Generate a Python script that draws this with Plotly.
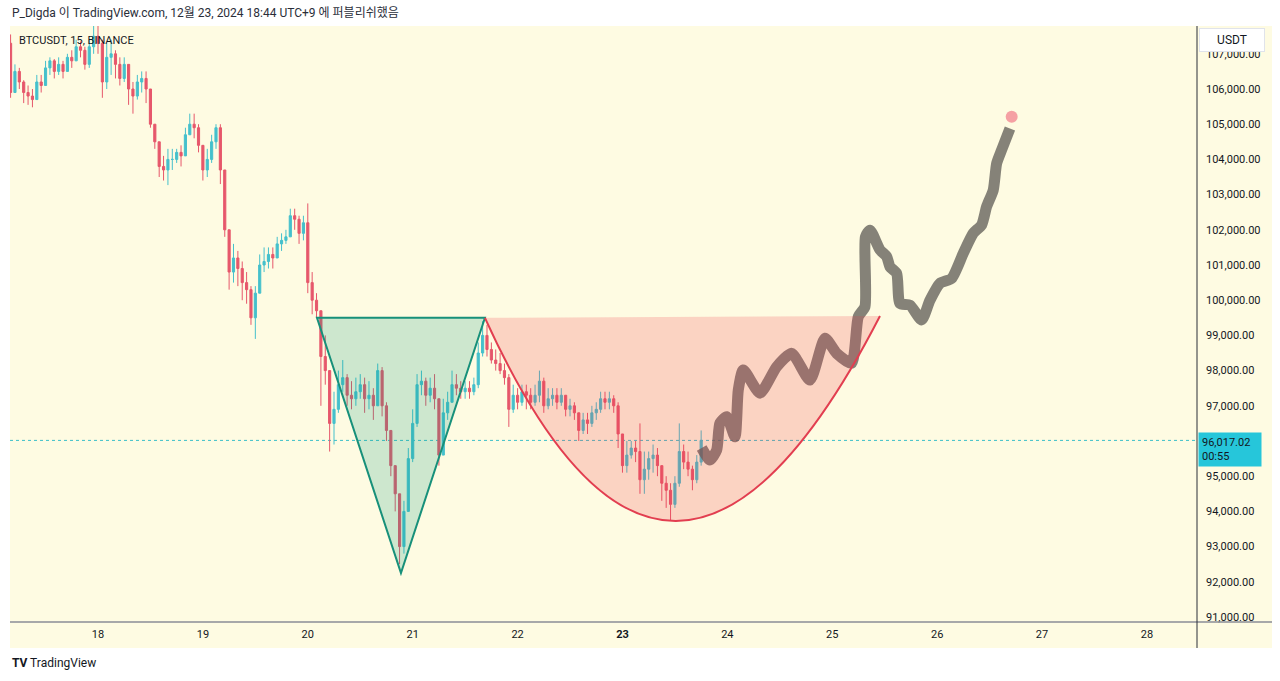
import plotly.graph_objects as go
import pandas as pd

# ---------------- data ----------------
candle_start = "2024-12-17 04:00"   # hourly candles
first_open = 107300
closes = [
    105900, 106500, 106200, 105900, 105800, 105700, 106200, 106100, 106600, 106800,
    106500, 106700, 106500, 106900, 106800, 107200, 107100, 106700, 107200, 107500,
    107300, 106200, 106900, 107000, 106700, 106300, 106700, 106000, 105800, 106200, 106300, 106000,
    105000, 104500, 103800, 103700, 104000, 104000, 104200, 104100, 104700, 105000, 104900, 104400,
    103700, 104000, 104500, 104900, 103700, 102000, 100800, 101200, 100900, 100500, 100300, 99500,
    100200, 101000, 101100, 101300, 101200, 101600, 101700, 101800, 102400, 102300, 101900, 102200,
    100500, 100000, 99700, 98400, 98000, 96500, 96900, 97600, 97800, 97300, 97200, 97400,
    97600, 97200, 97300, 97000, 98000, 97000, 96300, 95300, 94500, 93000, 94000, 95500,
    96500, 97600, 97700, 97300, 97500, 97200, 95600, 96800, 97100, 97600, 97500, 97400,
    97500, 97400, 97600, 98500, 99000, 98600, 98300, 98200, 98000, 97800, 96900, 97300,
    97100, 97400, 97300, 97100, 97300, 97700, 97000, 97200, 97300, 97100, 97300, 96900,
    97000, 96800, 96300, 96600, 96500, 96800, 96900, 97200, 97100, 97200, 97000, 96200,
    95300, 95600, 95800, 95700, 94900, 95200, 95500, 95600, 95300, 94800, 94600, 94200,
    94800, 95700, 95400, 95200, 94900, 95400, 96017.02,
]
highs = [
    107550, 106700, 106600, 106250, 106100, 106000, 106400, 106400, 106800, 106900,
    106850, 106900, 106800, 107000, 107100, 107400, 107350, 107200, 107400, 107800,
    107800, 107400, 107300, 107400, 107100, 106900, 106900, 106500, 106200, 106400, 106500, 106500,
    105700, 105000, 104300, 104100, 104300, 104300, 104300, 104400, 104900, 105300, 105300, 105000,
    104400, 104300, 104700, 105000, 105000, 103400, 102000, 101600, 101400, 101100, 100800, 100400,
    100400, 101300, 101500, 101500, 101500, 101800, 101900, 102000, 102600, 102600, 102400, 102400,
    102750, 100800, 100200, 99600, 99000, 97600, 97400, 98000, 98300, 97900, 97700, 97800,
    97900, 97800, 97700, 97500, 98200, 98100, 97100, 96000, 95300, 94500, 94300, 95800,
    96900, 97900, 98000, 97800, 97800, 97900, 97200, 97200, 97400, 98000, 97900, 97700,
    97700, 97700, 97800, 98800, 99400, 99300, 98800, 98600, 98500, 98200, 97900, 97600,
    97500, 97600, 97600, 97500, 97600, 98000, 97800, 97500, 97500, 97500, 97500, 97300,
    97200, 97100, 96800, 96800, 96800, 97000, 97100, 97400, 97400, 97400, 97300, 97100,
    96100, 96000, 96000, 96000, 96500, 95700, 95700, 95900, 95800, 95300, 95000, 94800,
    95000, 96500, 95900, 95700, 95300, 95600, 96300,
]
lows = [
    105750, 105900, 106000, 105600, 105550, 105480, 105700, 105900, 106100, 106400,
    106300, 106400, 106300, 106500, 106600, 106800, 106900, 106550, 106600, 107000,
    107000, 105750, 106000, 106400, 106300, 106100, 106200, 105550, 105300, 105700, 105900, 105600,
    104900, 104300, 103500, 103400, 103270, 103700, 103900, 103800, 104200, 104700, 104600, 104200,
    103400, 103500, 103900, 104300, 103300, 101800, 100300, 100500, 100400, 100000, 99900, 99300,
    98900, 100200, 100800, 100900, 100900, 101300, 101400, 101600, 101800, 102000, 101600, 101700,
    100200, 99600, 99500, 97000, 97600, 95700, 95900, 96800, 97400, 97000, 96900, 97000,
    97200, 96800, 96900, 96600, 97000, 96700, 96000, 95000, 94000, 92500, 92800, 94000,
    95400, 96400, 97300, 97000, 97100, 96900, 95300, 95600, 96600, 97100, 97300, 97200,
    97200, 97200, 97300, 97500, 98400, 98400, 98200, 98000, 97900, 97600, 96400, 96800,
    96900, 97000, 96900, 96900, 97000, 97100, 96800, 96900, 97000, 96900, 97000, 96700,
    96700, 96600, 96000, 96200, 96200, 96400, 96600, 96800, 96900, 96900, 96800, 95800,
    95100, 95100, 95500, 95400, 94500, 94500, 94900, 95100, 95000, 94300, 94100, 93750,
    94100, 94700, 95200, 95000, 94600, 94800, 95300,
]
last_price = 96017.02

# hand-drawn forecast path
fc_time = ["2024-12-23 18:07", "2024-12-23 20:01", "2024-12-23 21:33", "2024-12-23 22:18",
           "2024-12-23 23:50", "2024-12-24 01:44", "2024-12-24 02:30", "2024-12-24 03:38",
           "2024-12-24 07:28", "2024-12-24 11:17", "2024-12-24 14:43", "2024-12-24 18:54",
           "2024-12-24 22:20", "2024-12-25 01:00", "2024-12-25 04:26", "2024-12-25 05:57",
           "2024-12-25 07:29", "2024-12-25 07:35", "2024-12-25 08:38", "2024-12-25 10:55",
           "2024-12-25 12:27", "2024-12-25 13:12", "2024-12-25 14:44", "2024-12-25 15:29",
           "2024-12-25 17:47", "2024-12-25 20:27", "2024-12-25 22:21", "2024-12-26 00:38",
           "2024-12-26 03:19", "2024-12-26 05:58", "2024-12-26 08:15", "2024-12-26 10:11",
           "2024-12-26 11:19", "2024-12-26 12:50", "2024-12-26 13:37", "2024-12-26 14:45",
           "2024-12-26 16:39"]
fc_price = [95800, 95460, 95740, 96510, 96690, 96120, 97450, 98020, 97360, 98110, 98490,
            97730, 98920, 98490, 98210, 99530, 99820, 101800, 101990, 101430, 101240, 100950,
            100760, 99910, 99860, 99440, 100000, 100480, 100620, 101330, 101900, 102140,
            102660, 103130, 103890, 104270, 104880]
target_time = "2024-12-26 17:03"
target_price = 105213

# pattern drawings
tri_time = ["2024-12-20 02:06", "2024-12-21 16:32", "2024-12-20 21:19"]
tri_price = [99500, 99500, 92250]
cup_time = ["2024-12-21 16:32", "2024-12-23 10:45", "2024-12-25 10:55"]   # start, bezier control, end
cup_price = [99500, 87930, 99550]

day_ticks = ["2024-12-%02d" % d for d in range(18, 29)]
day_labels = ["18", "19", "20", "21", "22", "<b>23</b>", "24", "25", "26", "27", "28"]
# 96,000 is hidden behind the last-price label in the original
price_ticks = [91000, 92000, 93000, 94000, 95000, 97000, 98000, 99000, 100000,
               101000, 102000, 103000, 104000, 105000, 106000, 107000]
x_range = ["2024-12-17 03:52", "2024-12-28 11:27"]
y_range = [90858, 107790]

# ---------------- styling ----------------
BG = "#fefbe2"
UP = "#45c0cc"
DN = "#e6576b"
TXT = "#131722"
FONT = "Roboto, 'Noto Sans', 'Noto Sans CJK KR', sans-serif"

times = pd.date_range(candle_start, periods=len(closes), freq="h")
opens = [first_open] + closes[:-1]
hi = [max(h, o, c) for h, o, c in zip(highs, opens, closes)]
lo = [min(l, o, c) for l, o, c in zip(lows, opens, closes)]

fig = go.Figure()
fig.add_trace(go.Candlestick(
    x=times, open=opens, high=hi, low=lo, close=closes,
    increasing=dict(line=dict(color=UP, width=1), fillcolor=UP),
    decreasing=dict(line=dict(color=DN, width=1), fillcolor=DN),
    whiskerwidth=0, showlegend=False, hoverinfo="skip"))

fig.add_trace(go.Scatter(
    x=fc_time, y=fc_price, mode="lines",
    line=dict(color="rgba(92,90,84,0.75)", width=11, shape="spline", smoothing=0.6),
    showlegend=False, hoverinfo="skip"))
fig.add_trace(go.Scatter(
    x=[target_time], y=[target_price], mode="markers",
    marker=dict(size=12, color="#f5a0a3"), showlegend=False, hoverinfo="skip"))


def pt(t, v):
    return "%s,%s" % (t.replace(" ", "_"), v)


tri_path = "M %s L %s L %s Z" % tuple(pt(t, v) for t, v in zip(tri_time, tri_price))
cup_pts = [pt(t, v) for t, v in zip(cup_time, cup_price)]
cup_fill = "M %s Q %s %s Z" % tuple(cup_pts)
cup_line = "M %s Q %s %s" % tuple(cup_pts)

shapes = [
    # chart container background
    dict(type="rect", xref="paper", yref="paper", x0=0, x1=1.0632, y0=-0.0436, y1=1,
         fillcolor=BG, line=dict(width=0), layer="below"),
    # last price dotted line
    dict(type="line", xref="paper", yref="y", x0=0, x1=1, y0=last_price, y1=last_price,
         line=dict(color="#3cbfc9", width=1, dash="dot"), layer="below"),
    dict(type="path", xref="x", yref="y", path=tri_path,
         fillcolor="rgba(8,153,129,0.2)", line=dict(color="#17907a", width=2), layer="above"),
    dict(type="path", xref="x", yref="y", path=cup_fill,
         fillcolor="rgba(242,54,69,0.2)", line=dict(width=0), layer="above"),
    dict(type="path", xref="x", yref="y", path=cup_line,
         line=dict(color="#e23e50", width=2), layer="above"),
    # separators
    dict(type="line", xref="paper", yref="paper", x0=0, x1=1.0632, y0=0, y1=0,
         line=dict(color="#8a8d96", width=1.5)),
    dict(type="line", xref="paper", yref="paper", x0=1, x1=1, y0=-0.0436, y1=1,
         line=dict(color="#2a2e39", width=1)),
]

annotations = [
    dict(xref="paper", yref="paper", x=0, y=1.0218, xanchor="left", yanchor="middle",
         text="P_Digda 이 TradingView.com, 12월 23, 2024 18:44 UTC+9 에 퍼블리쉬했음",
         showarrow=False, font=dict(size=12, color="#2a2e39")),
    dict(xref="paper", yref="paper", x=0.0059, y=0.9765, xanchor="left", yanchor="middle",
         text="BTCUSDT, 15, BINANCE", showarrow=False, font=dict(size=11, color=TXT)),
    dict(xref="paper", yref="paper", x=1.0295, y=0.9765, xanchor="center", yanchor="middle",
         text="USDT", showarrow=False, font=dict(size=12, color=TXT),
         bgcolor="#ffffff", bordercolor="#e0e3eb", borderwidth=1, borderpad=4, width=56),
    dict(xref="paper", yref="y", x=1.0008, y=last_price, xanchor="left", yanchor="top",
         yshift=8, text="96,017.02<br>00:55", align="left", showarrow=False,
         font=dict(size=11, color=TXT), bgcolor="#26c6da", borderpad=3, width=56),
    dict(xref="paper", yref="paper", x=0, y=-0.0688, xanchor="left", yanchor="middle",
         text="<b>TV</b> TradingView", showarrow=False, font=dict(size=12, color=TXT)),
]

fig.update_layout(
    width=1280, height=681,
    margin=dict(l=10, r=83, t=26, b=59),
    paper_bgcolor="#ffffff", plot_bgcolor=BG,
    font=dict(family=FONT, color=TXT, size=11),
    shapes=shapes, annotations=annotations, showlegend=False,
    xaxis=dict(type="date", range=x_range, rangeslider=dict(visible=False),
               showgrid=False, zeroline=False, showline=False,
               tickvals=day_ticks, ticktext=day_labels, ticks="",
               tickfont=dict(size=11, color=TXT), ticklabelstandoff=4),
    yaxis=dict(side="right", range=y_range, showgrid=False, zeroline=False, showline=False,
               tickvals=price_ticks, ticktext=["{:,.2f}".format(v) for v in price_ticks],
               ticks="", tickfont=dict(size=11, color=TXT), ticklabelstandoff=8),
)

fig.write_html("out.html", config={"displayModeBar": False},
               post_script="document.body.style.margin='0';document.body.style.overflow='hidden';")
